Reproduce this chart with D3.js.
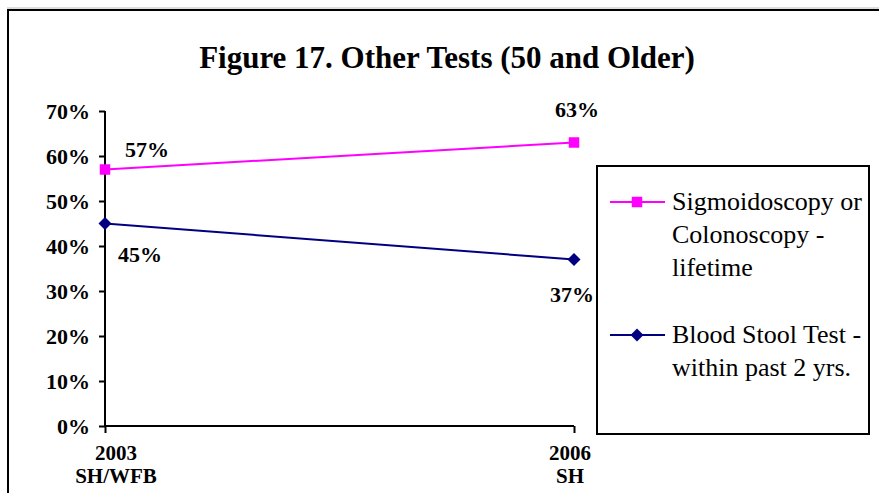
<!DOCTYPE html>
<html>
<head>
<meta charset="utf-8">
<script src="https://cdn.jsdelivr.net/npm/d3@7"></script>
<style>
  body { margin: 0; background: #fff; }
  svg { display: block; font-family: "Liberation Serif", "Times New Roman", serif; }
</style>
</head>
<body>
<div class="chart"></div>
<script>
// chart size
const WIDTH = 879;
const HEIGHT = 493;

// data
const years = ["2003", "2006"];
const yearSubs = ["SH/WFB", "SH"];
const sigmoid = [57, 63];
const bloodStool = [45, 37];
const yTicks = [0, 10, 20, 30, 40, 50, 60, 70];
const seriesNames = [
  ["Sigmoidoscopy or", "Colonoscopy -", "lifetime"],
  ["Blood Stool Test -", "within past 2 yrs."]
];

const svg = d3.select(".chart")
  .append("svg")
  .attr("width", WIDTH)
  .attr("height", HEIGHT);

// outer frame (bottom/right cut off by the window)
svg.append("line").attr("x1", 7).attr("x2", WIDTH).attr("y1", 8).attr("y2", 8)
  .attr("stroke", "#bbb").attr("stroke-width", 1);
svg.append("path")
  .attr("d", `M8,${HEIGHT} V10 H${WIDTH}`)
  .attr("fill", "none").attr("stroke", "#000").attr("stroke-width", 2);

// title
svg.append("text")
  .attr("x", 447).attr("y", 68)
  .attr("text-anchor", "middle")
  .attr("font-weight", "bold")
  .attr("font-size", 31)
  .text("Figure 17. Other Tests (50 and Older)");

const x = d3.scalePoint().domain(years).range([105, 574]);
const y = d3.scaleLinear().domain([0, 70]).range([426, 111]);

// y axis
const yAxis = svg.append("g")
  .attr("transform", "translate(105,0)")
  .call(d3.axisLeft(y).tickValues(yTicks).tickSize(6).tickPadding(9).tickFormat(d => d + "%"));
yAxis.selectAll("path, line").attr("stroke", "#000").attr("stroke-width", 2);
yAxis.select(".domain").attr("d", `M0,${y(70)}V${y(0)}`);
yAxis.selectAll("text")
  .attr("font-family", "Liberation Serif, serif")
  .attr("font-size", 22).attr("font-weight", "bold").attr("fill", "#000");

// x axis
const xAxis = svg.append("g")
  .attr("transform", `translate(0,${y(0)})`)
  .call(d3.axisBottom(x).tickSize(7).tickFormat(""));
xAxis.selectAll("path, line").attr("stroke", "#000").attr("stroke-width", 2);
xAxis.select(".domain").attr("d", `M${x(years[0])},0H${x(years[1])}`);

years.forEach((yr, i) => {
  const cx = x(yr) + (i === 0 ? 11 : -4);
  const t = svg.append("text")
    .attr("text-anchor", "middle")
    .attr("font-weight", "bold")
    .attr("font-size", 21);
  t.append("tspan").attr("x", cx).attr("y", 460).text(yr);
  t.append("tspan").attr("x", cx).attr("y", 483).text(yearSubs[i]);
});

const line = d3.line().x((d, i) => x(years[i])).y(d => y(d));

const PINK = "#ff00ff";
const NAVY = "#000080";

svg.append("path").datum(sigmoid).attr("d", line)
  .attr("fill", "none").attr("stroke", PINK).attr("stroke-width", 2);
svg.append("path").datum(bloodStool).attr("d", line)
  .attr("fill", "none").attr("stroke", NAVY).attr("stroke-width", 2);

const square = d3.symbol().type(d3.symbolSquare).size(110);
// rotated square, as in the original markers
const diamond = "M0,-6.5L6.5,0L0,6.5L-6.5,0Z";

svg.selectAll(".sq").data(sigmoid).join("path")
  .attr("transform", (d, i) => `translate(${x(years[i])},${y(d)})`)
  .attr("d", square).attr("fill", PINK);
svg.selectAll(".dm").data(bloodStool).join("path")
  .attr("transform", (d, i) => `translate(${x(years[i])},${y(d)})`)
  .attr("d", diamond).attr("fill", NAVY);

// data labels
const labelOffsets = {
  sig: [[42, -13], [3, -26]],
  bld: [[35, 38], [-2, 42]]
};
function addLabels(vals, offs) {
  svg.selectAll(null).data(vals).join("text")
    .attr("x", (d, i) => x(years[i]) + offs[i][0])
    .attr("y", (d, i) => y(d) + offs[i][1])
    .attr("text-anchor", "middle")
    .attr("font-weight", "bold")
    .attr("font-size", 22)
    .text(d => d + "%");
}
addLabels(sigmoid, labelOffsets.sig);
addLabels(bloodStool, labelOffsets.bld);

// legend
const legend = svg.append("g");
legend.append("rect")
  .attr("x", 597).attr("y", 166).attr("width", 272).attr("height", 268)
  .attr("fill", "#fff").attr("stroke", "#000").attr("stroke-width", 2);

const legendItems = [
  { color: PINK, sym: square, cy: 202, lines: seriesNames[0] },
  { color: NAVY, sym: diamond, cy: 335, lines: seriesNames[1] }
];
legendItems.forEach(item => {
  legend.append("line")
    .attr("x1", 610).attr("x2", 665).attr("y1", item.cy).attr("y2", item.cy)
    .attr("stroke", item.color).attr("stroke-width", 2);
  legend.append("path")
    .attr("transform", `translate(637,${item.cy})`)
    .attr("d", item.sym).attr("fill", item.color);
  const t = legend.append("text").attr("font-size", 26);
  item.lines.forEach((ln, j) => {
    t.append("tspan").attr("x", 672).attr("y", item.cy + 8 + j * 33).text(ln);
  });
});
</script>
</body>
</html>
